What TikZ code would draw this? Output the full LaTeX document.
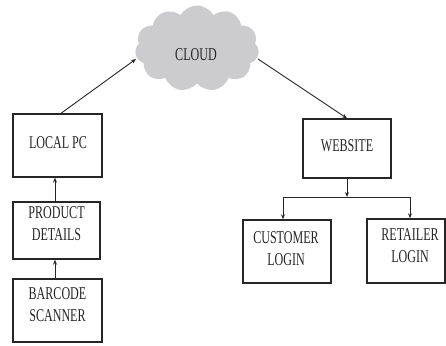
\documentclass[tikz,border=0pt]{standalone}
\usepackage{fontspec}
\setmainfont{Liberation Serif}[FakeStretch=0.67]
\usetikzlibrary{shapes.symbols,arrows.meta}
\tikzset{
  box/.style={draw=black!85, line width=1.4pt, inner sep=0pt},
  lbl/.style={font=\fontsize{18}{22}\selectfont, text=black!85, align=center, inner sep=0pt},
  conn/.style={draw=black!85, line width=0.9pt, -{Stealth[length=5pt,width=4pt]}},
}
\begin{document}
\begin{tikzpicture}[x=1pt,y=-1pt]
\useasboundingbox (0,0) rectangle (446,345);
% cloud
\node[cloud, cloud puffs=11, cloud puff arc=120, aspect=1.45, fill={rgb,255:red,204;green,204;blue,206},
      minimum width=124pt, minimum height=86pt, inner sep=0pt] (cloud) at (197,48.5) {};
\node[lbl] (cloudT) at (196,55) {CLOUD};
% boxes
\node[box, minimum width=89pt, minimum height=63pt] (localpc) at (57.5,145.5) {};
\node[lbl] (localpcT) at (58,143) {LOCAL PC};
\node[box, minimum width=87pt, minimum height=57pt] (product) at (56.5,230.5) {};
\node[lbl] (productT) at (56.5,224) {PRODUCT\\DETAILS};
\node[box, minimum width=89pt, minimum height=63pt] (barcode) at (57.5,310.5) {};
\node[lbl] (barcodeT) at (57.5,305) {BARCODE\\SCANNER};
\node[box, minimum width=88pt, minimum height=59pt] (website) at (347,148.5) {};
\node[lbl] (websiteT) at (347,145.5) {WEBSITE};
\node[box, minimum width=88pt, minimum height=63pt] (customer) at (287,251.5) {};
\node[lbl] (customerT) at (286,249) {CUSTOMER\\LOGIN};
\node[box, minimum width=78pt, minimum height=64pt] (retailer) at (406,251) {};
\node[lbl] (retailerT) at (410,246) {RETAILER\\LOGIN};
% connectors
\draw[conn] ([xshift=-2.5pt]barcode.north) -- ([xshift=-2.5pt]barcode.north |- product.south);
\draw[conn] ([xshift=-1.5pt]product.north) -- ([xshift=-1.5pt]product.north |- localpc.south);
\draw[conn] ([xshift=3.5pt]localpc.north) -- (136,59);
\draw[conn] (258,59) -- (website.north);
\coordinate (split) at (347,197);
\draw[conn] (website.south) -- (split);
\draw[conn] (split) -| ([xshift=-4pt]customer.north);
\draw[conn] (split) -| ([xshift=4pt]retailer.north);
\end{tikzpicture}
\end{document}
